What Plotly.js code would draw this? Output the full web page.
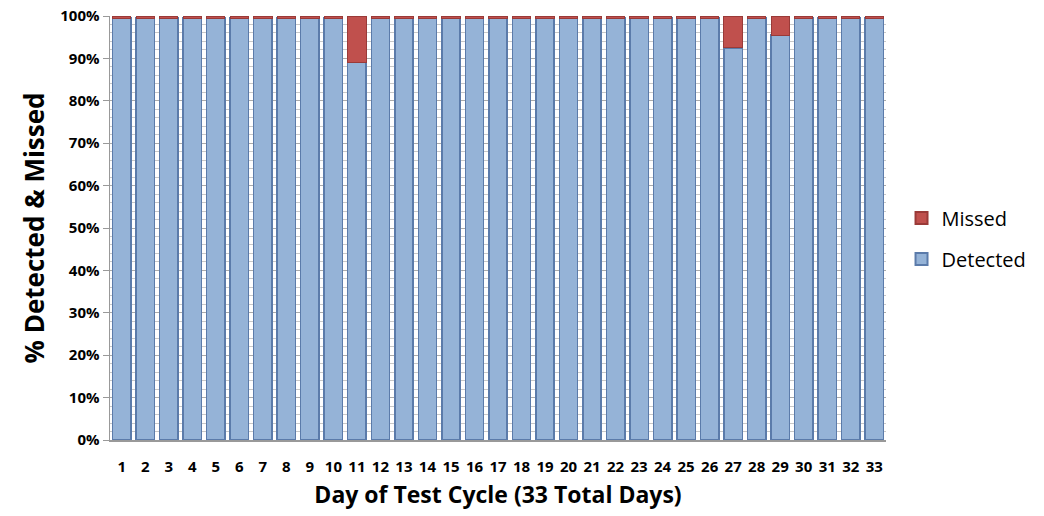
<!DOCTYPE html>
<html>
<head>
<meta charset="utf-8">
<script src="https://cdn.plot.ly/plotly-3.0.1.min.js"></script>
<style>html,body{margin:0;padding:0;background:#fff;}#chart{width:1044px;height:516px;}</style>
</head>
<body>
<div id="chart"></div>
<script>
const days = ['1','2','3','4','5','6','7','8','9','10','11','12','13','14','15','16','17','18','19','20','21','22','23','24','25','26','27','28','29','30','31','32','33'];
const detected = [99.5,99.5,99.5,99.5,99.5,99.5,99.5,99.5,99.5,99.5,89,99.5,99.5,99.5,99.5,99.5,99.5,99.5,99.5,99.5,99.5,99.5,99.5,99.5,99.5,99.5,92.5,99.5,95.5,99.5,99.5,99.5,99.5];
const missed = detected.map(v => +(100 - v).toFixed(1));
const yTicks = [0,10,20,30,40,50,60,70,80,90,100];
const yTickText = yTicks.map(v => v + '%');

const font = "'Open Sans', 'Noto Sans', sans-serif";
const data = [
  {type:'bar', name:'Detected', x:days, y:detected, legendgroup:'d', legendrank:2,
   marker:{color:'#95B3D7', line:{color:'#5B7BAA', width:1.5}}},
  {type:'bar', name:'Missed', x:days, y:missed, legendgroup:'m', legendrank:1,
   marker:{color:'#C0504D', line:{color:'#9A3A38', width:1}}}
];
const layout = {
  width:1044, height:516,
  margin:{l:110, r:144, t:16, b:76},
  barmode:'stack', bargap:0.22,
  paper_bgcolor:'#fff', plot_bgcolor:'#fff',
  showlegend:true,
  legend:{x:1.02, y:0.475, xanchor:'left', yanchor:'middle', traceorder:'grouped',
          font:{family:font, size:20, color:'#000'}, itemsizing:'constant', tracegroupgap:12},
  xaxis:{type:'category', tickfont:{family:font, size:15, color:'#000', weight:'bold'},
         ticklabelstandoff:12,
         showline:true, linecolor:'#999', linewidth:1.5, ticks:'', showgrid:false,
         title:{text:'Day of Test Cycle (33 Total Days)', font:{family:font, size:23, color:'#000', weight:'bold'}, standoff:12}},
  yaxis:{range:[0,100], tickvals:yTicks, ticktext:yTickText,
         tickfont:{family:font, size:15, color:'#000', weight:'bold'},
         showline:true, linecolor:'#999', linewidth:1.5, ticks:'outside', ticklen:6, tickcolor:'#999',
         showgrid:true, gridcolor:'#aaa', gridwidth:1,
         minor:{dtick:2, showgrid:true, gridcolor:'#c8c8c8', gridwidth:1, ticks:''},
         zeroline:false,
         title:{text:'% Detected & Missed', font:{family:font, size:26, color:'#000', weight:'bold'}, standoff:8}}
};
Plotly.newPlot('chart', data, layout, {displayModeBar:false, staticPlot:true});
</script>
</body>
</html>
